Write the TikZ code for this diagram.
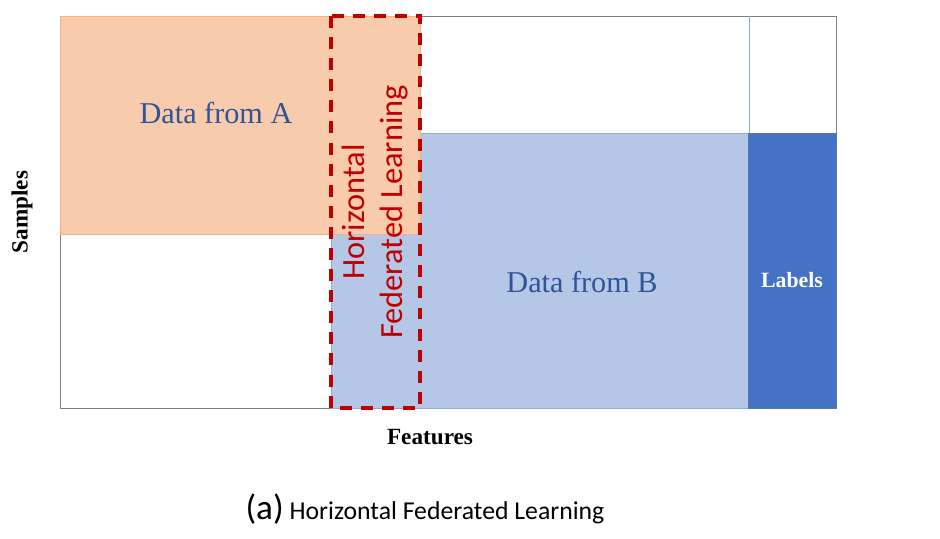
\documentclass[tikz,border=0pt]{standalone}
\usepackage{fontspec}
\setmainfont{Liberation Serif}
\newfontfamily\calfont{Carlito}
\usepackage{xcolor}
\usetikzlibrary{positioning}

\definecolor{peach}{HTML}{F8CBAD}
\definecolor{peachline}{HTML}{F4B183}
\definecolor{paleblue}{HTML}{B4C7E7}
\definecolor{palebline}{HTML}{8FAADC}
\definecolor{deepblue}{HTML}{4472C4}
\definecolor{inkblue}{HTML}{2F5597}
\definecolor{hflred}{HTML}{C00000}
\definecolor{frame}{HTML}{7F7F7F}

\begin{document}
\begin{tikzpicture}[
    x=0.025cm, y=-0.025cm,
    blocktext/.style={font=\fontsize{21.5}{26}\selectfont, text=inkblue, inner sep=0pt},
    axislabel/.style={font=\fontsize{16.5}{20}\selectfont\bfseries, inner sep=0pt},
    hflbox/.style={draw=hflred, line width=2.8pt, dash pattern=on 8.5pt off 6.5pt},
]
\useasboundingbox (0,0) rectangle (940,539);

% === Outer frame ===
\draw[frame, line width=0.6pt] (60,16) rectangle (836,408);

% === Data blocks ===
\draw[fill=paleblue, draw=palebline, line width=0.5pt] (331,133) rectangle (748,408);
\draw[fill=peach, draw=peachline, line width=0.5pt] (60,16) rectangle (420,234);
\draw[fill=deepblue, draw=inkblue!80, line width=0.5pt] (748,133) rectangle (836,408);
\draw[palebline, line width=0.6pt] (749,16) -- (749,133);

\node[blocktext] (dataA) at (216,113) {Data from A};
\node[blocktext] (dataB) at (582,282) {Data from B};
\node[font=\fontsize{15.5}{18}\selectfont\bfseries, text=white, inner sep=0pt] (lbl) at (792,280) {Labels};

% === Horizontal FL overlap ===
\draw[hflbox] (331,16) rectangle (420,408);
\node[font=\calfont\fontsize{23}{26.5}\selectfont, text=hflred, rotate=90, align=center, inner sep=0pt] (hfl) at (375,212) {Horizontal\\Federated Learning};

% === Axes ===
\node[axislabel, rotate=90] (samples) at (22,212) {Samples};
\node[axislabel] (features) at (430,437) {Features};

% === Caption ===
\node[font=\calfont\fontsize{18.3}{22}\selectfont, inner sep=0pt] (cap) at (425,509) {{\fontsize{25}{28}\selectfont(a)} Horizontal Federated Learning};

\end{tikzpicture}
\end{document}
